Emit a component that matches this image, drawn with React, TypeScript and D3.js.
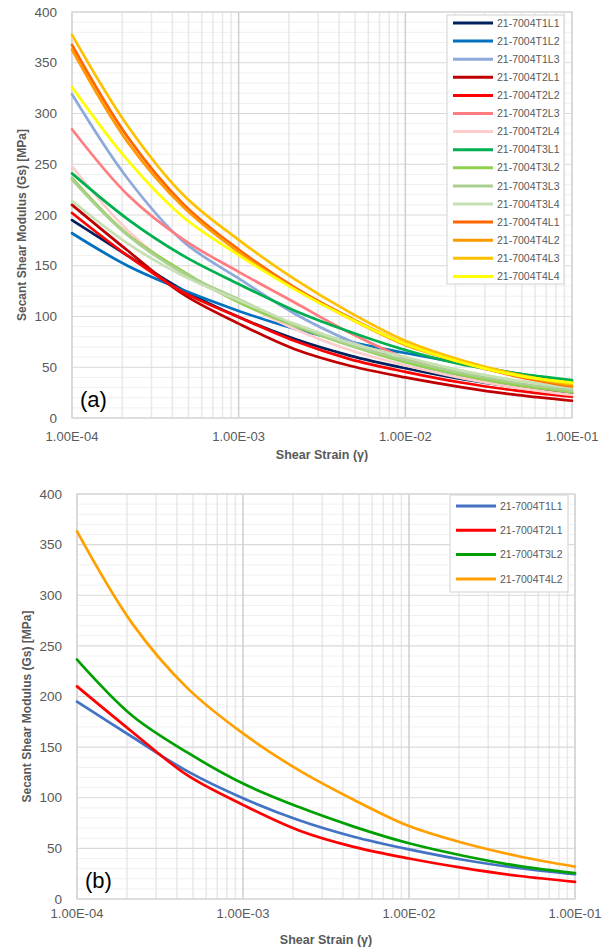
import React from "react";
import * as d3 from "d3";

// ---------- data ----------
const strains = [1e-4, 2.154e-4, 4.642e-4, 1e-3, 2.154e-3, 4.642e-3, 1e-2, 2.154e-2, 4.642e-2, 1e-1];

const yTicks = [0, 50, 100, 150, 200, 250, 300, 350, 400];
const xTickValues = [1e-4, 1e-3, 1e-2, 1e-1];
const xTickLabels = ["1.00E-04", "1.00E-03", "1.00E-02", "1.00E-01"];

const namesA = [
  "21-7004T1L1", "21-7004T1L2", "21-7004T1L3",
  "21-7004T2L1", "21-7004T2L2", "21-7004T2L3", "21-7004T2L4",
  "21-7004T3L1", "21-7004T3L2", "21-7004T3L3", "21-7004T3L4",
  "21-7004T4L1", "21-7004T4L2", "21-7004T4L3", "21-7004T4L4",
];
const colorsA = [
  "#002060", "#0070C0", "#8EA9DB",
  "#C00000", "#FF0000", "#FF7C80", "#FFCCCC",
  "#00B050", "#92D050", "#A9D08E", "#C6E0B4",
  "#FF6600", "#FF9900", "#FFC000", "#FFFF00",
];

const T1L1 = [195, 160, 126, 99.5, 78, 61.5, 49, 38.5, 30.5, 24.5];
const T1L2 = [182, 150, 126, 105.5, 88, 75, 64, 54, 44, 36];
const T1L3 = [319, 236, 174, 137.5, 103, 76, 55.5, 42, 33.5, 28];
const T2L1 = [210, 165, 122, 93, 68, 51.5, 40, 30.5, 22.7, 17];
const T2L2 = [202, 160, 124, 99.5, 76, 58, 45.5, 35, 27, 21];
const T2L3 = [284.5, 220, 176, 144, 114, 84, 59, 43, 32.5, 25.6];
const T2L4 = [248, 185, 142, 114.5, 88, 67, 52, 39.5, 30, 22.7];
const T3L1 = [241, 196, 160, 132, 106, 85, 67, 53, 44, 37.4];
const T3L2 = [236.5, 181, 144.5, 114, 91, 71.5, 55, 42.5, 32.5, 25.5];
const T3L3 = [235, 180, 143, 117, 92, 72, 57, 44.5, 34.5, 27];
const T3L4 = [214, 172, 140, 116, 93, 74, 60, 47, 37, 29.5];
const T4L1 = [367.5, 277, 211, 166, 129, 99, 73, 55, 41, 31];
const T4L2 = [363, 272, 208, 163.5, 127.5, 98, 72, 55, 42, 32];
const T4L3 = [377.5, 288, 220, 175.5, 137, 104, 76, 57, 43, 33.5];
const T4L4 = [326, 254, 198, 160.5, 127, 98, 73, 55, 42, 34.8];

const valuesA = [T1L1, T1L2, T1L3, T2L1, T2L2, T2L3, T2L4, T3L1, T3L2, T3L3, T3L4, T4L1, T4L2, T4L3, T4L4];

const namesB = ["21-7004T1L1", "21-7004T2L1", "21-7004T3L2", "21-7004T4L2"];
const colorsB = ["#4472C4", "#FF0000", "#00A000", "#FFA000"];
const valuesB = [T1L1, T2L1, T3L2, T4L2];

// ---------- chart ----------
type Box = { left: number; right: number; top: number; bottom: number };
type Leg = { x: number; y: number; w: number; h: number; firstY: number; step: number };

const FONT = "'Liberation Sans', Arial, sans-serif";
const GREY = "#595959";

function Panel(props: {
  box: Box; names: string[]; colors: string[]; values: number[][];
  legend: Leg; label: string; lineW: number; tickY: number; titleY: number;
}) {
  const { box, names, colors, values, legend, label, lineW, tickY, titleY } = props;
  const x = d3.scaleLog().domain([1e-4, 1e-1]).range([box.left, box.right]);
  const y = d3.scaleLinear().domain([0, 400]).range([box.bottom, box.top]);

  const minorY = d3.range(0, 401, 10).filter((v) => v % 50 !== 0);
  const minorX: number[] = [];
  [1e-4, 1e-3, 1e-2].forEach((dec) => {
    for (let m = 2; m <= 9; m++) minorX.push(dec * m);
  });

  const line = d3
    .line<number>()
    .x((_, i) => x(strains[i]))
    .y((d) => y(d))
    .curve(d3.curveCatmullRom.alpha(0.5));

  const midX = (box.left + box.right) / 2;
  const midY = (box.top + box.bottom) / 2;

  return (
    <g>
      {/* minor gridlines */}
      {minorY.map((v) => (
        <line key={"my" + v} x1={box.left} x2={box.right} y1={y(v)} y2={y(v)} stroke="#f0f0f0" strokeWidth={1} />
      ))}
      {minorX.map((v, i) => (
        <line key={"mx" + i} x1={x(v)} x2={x(v)} y1={box.top} y2={box.bottom} stroke="#e8e8e8" strokeWidth={1.5} />
      ))}
      {/* major gridlines */}
      {yTicks.map((v) => (
        <line key={"gy" + v} x1={box.left} x2={box.right} y1={y(v)} y2={y(v)} stroke="#d9d9d9" strokeWidth={1.2} />
      ))}
      {xTickValues.map((v) => (
        <line key={"gx" + v} x1={x(v)} x2={x(v)} y1={box.top} y2={box.bottom} stroke="#cfcfcf" strokeWidth={1.5} />
      ))}
      <rect x={box.left} y={box.top} width={box.right - box.left} height={box.bottom - box.top} fill="none" stroke="#d9d9d9" strokeWidth={1.5} />

      {/* y tick labels */}
      {yTicks.map((v) => (
        <text key={"ty" + v} x={box.left - 15} y={y(v)} dy="0.35em" textAnchor="end" fontFamily={FONT} fontSize={13.5} fill={GREY}>
          {v}
        </text>
      ))}
      {/* x tick labels */}
      {xTickValues.map((v, i) => (
        <text key={"tx" + v} x={x(v)} y={tickY} dy="0.35em" textAnchor="middle" fontFamily={FONT} fontSize={13} fill={GREY}>
          {xTickLabels[i]}
        </text>
      ))}
      {/* axis titles */}
      <text x={midX} y={titleY} dy="0.35em" textAnchor="middle" fontFamily={FONT} fontSize={12.5} fontWeight="bold" fill={GREY}>
        Shear Strain (γ)
      </text>
      <text transform={`translate(${box.left - 50},${midY + 10}) rotate(-90)`} dy="0.35em" textAnchor="middle" fontFamily={FONT} fontSize={12} fontWeight="bold" fill={GREY}>
        Secant Shear Modulus (Gs) [MPa]
      </text>

      {/* series */}
      {values.map((vals, i) => (
        <path key={"s" + i} d={line(vals) || ""} fill="none" stroke={colors[i]} strokeWidth={lineW} strokeLinejoin="round" strokeLinecap="round" />
      ))}

      {/* panel label */}
      <text x={box.left + 8} y={box.bottom - 11} fontFamily={FONT} fontSize={22} fill="#000">
        {label}
      </text>

      {/* legend */}
      <rect x={legend.x} y={legend.y} width={legend.w} height={legend.h} fill="#fff" stroke="#d9d9d9" strokeWidth={1.2} />
      {names.map((n, i) => {
        const ly = legend.firstY + i * legend.step;
        return (
          <g key={"l" + i}>
            <line x1={legend.x + 6} x2={legend.x + 46} y1={ly} y2={ly} stroke={colors[i]} strokeWidth={3} />
            <text x={legend.x + 50} y={ly} dy="0.35em" fontFamily={FONT} fontSize={10.5} fill={GREY}>
              {n}
            </text>
          </g>
        );
      })}
    </g>
  );
}

export default function App() {
  return (
    <svg width={610} height={949} style={{ position: "absolute", left: 0, top: 0, background: "#fff" }}>
      <rect width={610} height={949} fill="#fff" />
      <Panel
        box={{ left: 72, right: 572, top: 12, bottom: 418 }}
        names={namesA}
        colors={colorsA}
        values={valuesA}
        legend={{ x: 447, y: 15, w: 117, h: 269, firstY: 23, step: 18.1 }}
        label="(a)"
        lineW={2.7}
        tickY={436}
        titleY={455}
      />
      <Panel
        box={{ left: 77, right: 575, top: 494, bottom: 899 }}
        names={namesB}
        colors={colorsB}
        values={valuesB}
        legend={{ x: 450, y: 495, w: 118, h: 97, firstY: 506, step: 24.3 }}
        label="(b)"
        lineW={2.7}
        tickY={913}
        titleY={940}
      />
    </svg>
  );
}
